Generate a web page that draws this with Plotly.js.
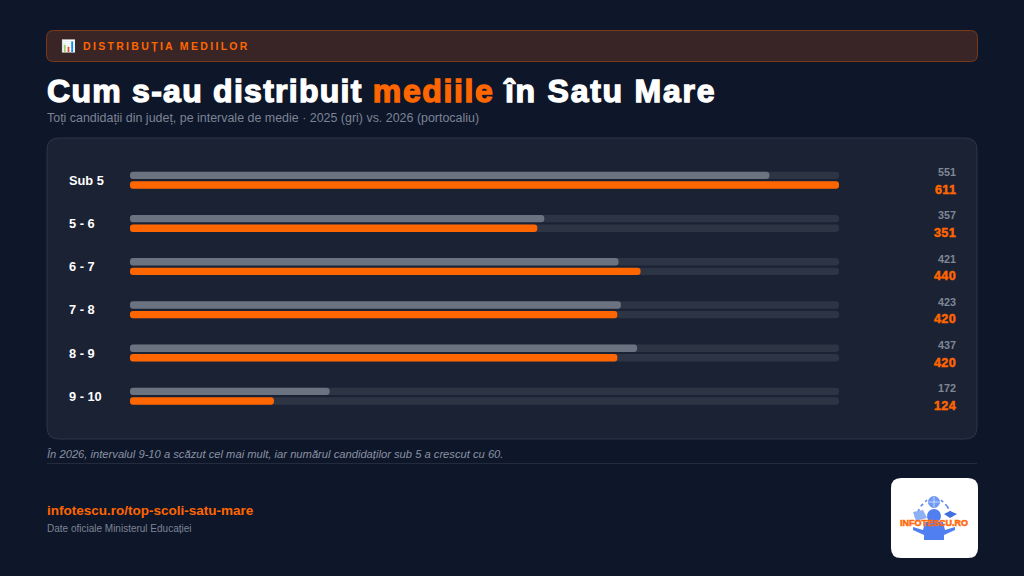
<!DOCTYPE html>
<html><head><meta charset="utf-8">
<script src="https://cdn.plot.ly/plotly-3.0.0.min.js"></script>
<style>html,body{margin:0;padding:0;background:#0e162a;overflow:hidden}#c{width:1024px;height:576px}</style>
</head><body><div id="c"></div>
<script>
const categories = ["Sub 5","5 - 6","6 - 7","7 - 8","8 - 9","9 - 10"];
const values2025 = [551,357,421,423,437,172];
const values2026 = [611,351,440,420,420,124];
const trackMax = 611;

const W=1024,H=576;
const fx=x=>x/W, fy=y=>1-y/H;
const F="Liberation Sans, Arial, sans-serif";
const ORANGE="#ff6600", GRAY="#6b7280";

function rr(x0,y0,x1,y1,r,fill,line,lw){
  const P=(x,y)=>fx(x)+","+fy(y);
  const d="M"+P(x0+r,y0)+" L"+P(x1-r,y0)+" Q"+P(x1,y0)+" "+P(x1,y0+r)+" L"+P(x1,y1-r)+" Q"+P(x1,y1)+" "+P(x1-r,y1)+
    " L"+P(x0+r,y1)+" Q"+P(x0,y1)+" "+P(x0,y1-r)+" L"+P(x0,y0+r)+" Q"+P(x0,y0)+" "+P(x0+r,y0)+" Z";
  return {type:"path",xref:"paper",yref:"paper",path:d,fillcolor:fill,line:{color:line||fill,width:lw===undefined?1:lw},layer:"below"};
}
function poly(pts,fill){
  const d=pts.map((p,i)=>(i?"L":"M")+fx(p[0])+","+fy(p[1])).join(" ")+" Z";
  return {type:"path",xref:"paper",yref:"paper",path:d,fillcolor:fill,line:{width:0},layer:"below"};
}
function circ(cx,cy,r,fill,line){
  return {type:"circle",xref:"paper",yref:"paper",x0:fx(cx-r),x1:fx(cx+r),y0:fy(cy+r),y1:fy(cy-r),fillcolor:fill,line:{color:line||fill,width:line?0.8:0},layer:"below"};
}
function seg(x0,y0,x1,y1,c,w,dash){
  return {type:"line",xref:"paper",yref:"paper",x0:fx(x0),x1:fx(x1),y0:fy(y0),y1:fy(y1),line:{color:c,width:w,dash:dash||"solid"},layer:"below"};
}
function T(text,x,y,size,color,opt){
  opt=opt||{};
  return {text:text,xref:"paper",yref:"paper",x:fx(x-2),y:fy(y),xanchor:opt.a||"left",yanchor:"middle",showarrow:false,
    font:{family:opt.f||F,size:size,color:color,weight:opt.w||400,style:opt.i?"italic":"normal"}};
}

const shapes=[
  rr(46.5,30.5,977.5,61.5,7,"#3a2526","#7a3a17",1),
  rr(47,138,977,439,12,"#1b2234","#2d3548",1),
  seg(47,463.5,977,463.5,"#232b3d",1),
  rr(891,478,978,558,10,"#ffffff","#ffffff",0),
  // logo
  circ(934,502,5.5,"#6f9bf5","#5b86ee"),
  seg(928.5,502,939.5,502,"#ffffff",0.6),
  seg(934,496.5,934,507.5,"#ffffff",0.6),
  seg(915,517,921,506,"#5b86ee",1.6,"dot"),
  seg(921,506,927,500,"#5b86ee",1.6,"dot"),
  seg(941,500,947,506,"#5b86ee",1.6,"dot"),
  seg(947,506,952,515,"#5b86ee",1.6,"dot"),
  circ(934,516,7,"#4f7ff0"),
  poly([[925,522],[943,522],[945,530],[955,527],[955,530],[944,535],[944,540],[924,540],[924,535],[913,530],[913,527],[923,530]],"#4f7ff0"),
  poly([[913,512],[923,510],[927,518],[916,521]],"#8db0f5"),
  poly([[944,514],[950,511],[957,514],[950,518]],"#3f6fe0")
];

const sw='stroke-width:1.3px;';
const annotations=[
  T('<span style="letter-spacing:2.32px">DISTRIBUȚIA MEDIILOR</span>',83,45.5,10.5,ORANGE,{w:700}),
  T('📊',61,45.5,12,"#ffffff",{f:"Noto Color Emoji, "+F}),
  T('<span style="stroke:#ffffff;'+sw+'letter-spacing:1.27px">Cum s-au distribuit </span><span style="fill:#ff6600;stroke:#ff6600;'+sw+'letter-spacing:1.6px">mediile</span><span style="stroke:#ffffff;'+sw+'letter-spacing:1.75px"> în Satu Mare</span>',47,91,32,"#ffffff",{w:700}),
  T('Toți candidații din județ, pe intervale de medie · 2025 (gri) vs. 2026 (portocaliu)',47,118,12.45,"#7c8494"),
  T('În 2026, intervalul 9-10 a scăzut cel mai mult, iar numărul candidaților sub 5 a crescut cu 60.',47,454,11.2,"#8a92a2",{i:true}),
  T('infotescu.ro/top-scoli-satu-mare',47,510,13.5,ORANGE,{w:700}),
  T('Date oficiale Ministerul Educației',47,528,10,"#7c8494"),
  T('<span style="stroke:#ff6600;stroke-width:0.5px">INFOTESCU.RO</span>',936,523,9,"#ff6a13",{a:"center",w:700})
];
categories.forEach((c,i)=>{
  annotations.push({text:c,xref:"paper",yref:"y",x:fx(66.5),y:c,xanchor:"left",yanchor:"middle",showarrow:false,
    font:{family:F,size:12.8,color:"#ffffff",weight:700}});
  annotations.push({text:String(values2025[i]),xref:"paper",yref:"y",x:fx(957.5),y:c,yshift:8,xanchor:"right",yanchor:"middle",showarrow:false,
    font:{family:F,size:10.8,color:"#7f8796",weight:700}});
  annotations.push({text:'<span style="stroke:#ff6600;stroke-width:0.5px;letter-spacing:0.4px">'+values2026[i]+'</span>',xref:"paper",yref:"y",x:fx(958),y:c,yshift:-9.5,xanchor:"right",yanchor:"middle",showarrow:false,
    font:{family:F,size:12.5,color:ORANGE,weight:700}});
});

const track=categories.map(()=>trackMax);
function bar(vals,color,group){
  return {type:"bar",orientation:"h",y:categories,x:vals,base:0,marker:{color:color,line:{width:0}},offsetgroup:group,hoverinfo:"skip",showlegend:false};
}
const data=[
  bar(track,"#2d3444","a"),
  bar(track,"#2d3444","b"),
  bar(values2025,GRAY,"a"),
  bar(values2026,ORANGE,"b")
];
const layout={
  width:W,height:H,margin:{l:0,r:0,t:0,b:0},
  paper_bgcolor:"#0e162a",plot_bgcolor:"rgba(0,0,0,0)",
  barmode:"group",bargap:0.556,bargroupgap:0.23,barcornerradius:3.5,
  xaxis:{domain:[fx(130),fx(839)],range:[0,trackMax],visible:false,fixedrange:true},
  yaxis:{domain:[fy(417.8),fy(158.6)],type:"category",categoryorder:"array",categoryarray:categories,autorange:"reversed",visible:false,fixedrange:true},
  shapes:shapes,annotations:annotations,hovermode:false,showlegend:false
};
Plotly.newPlot("c",data,layout,{displayModeBar:false,staticPlot:true});
</script></body></html>
